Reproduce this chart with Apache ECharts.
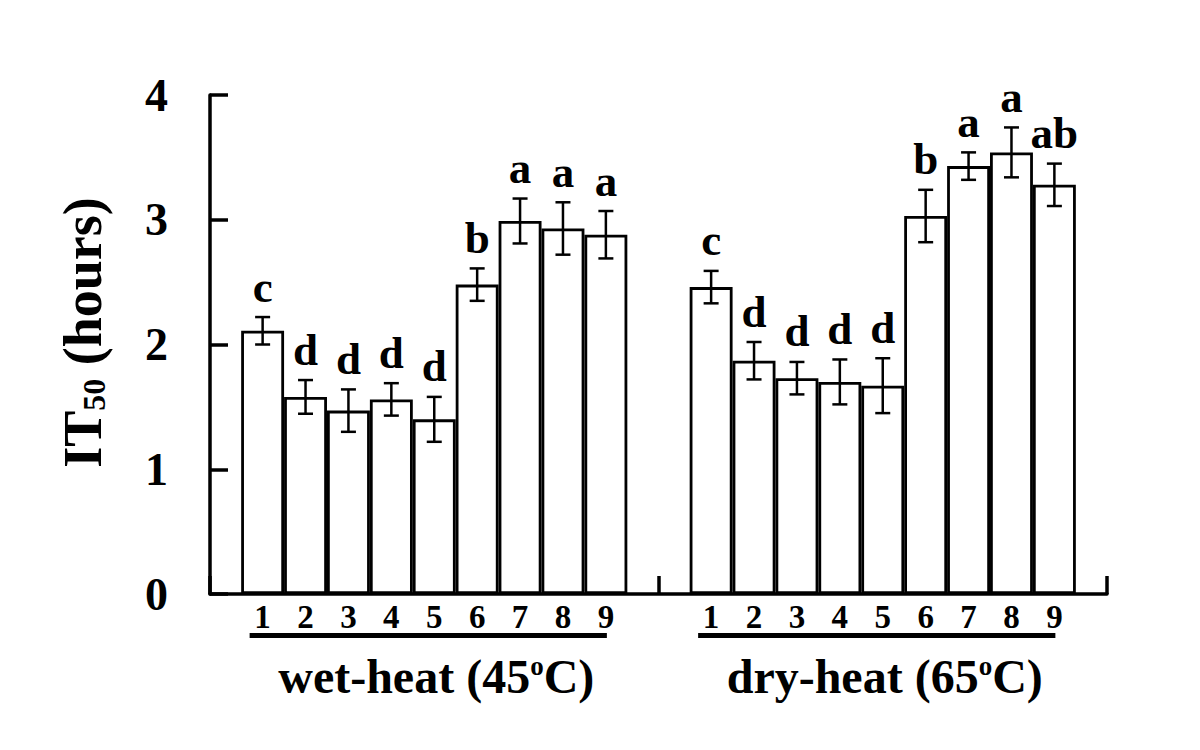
<!DOCTYPE html>
<html><head><meta charset="utf-8">
<script src="https://cdn.jsdelivr.net/npm/echarts@6/dist/echarts.min.js"></script>
<style>html,body{margin:0;padding:0;background:#fff}#c{width:1200px;height:750px}</style>
</head><body><div id="c"></div>
<script>
// ---- data ----
const groups = ['wet-heat (45ºC)', 'dry-heat (65ºC)'];
const treatments = ['1', '2', '3', '4', '5', '6', '7', '8', '9'];
const wetMean = [2.11, 1.58, 1.47, 1.56, 1.40, 2.48, 2.99, 2.93, 2.88];
const wetErr = [0.11, 0.135, 0.17, 0.13, 0.18, 0.13, 0.18, 0.21, 0.19];
const wetLetters = ['c', 'd', 'd', 'd', 'd', 'b', 'a', 'a', 'a'];
const dryMean = [2.46, 1.87, 1.73, 1.70, 1.67, 3.03, 3.43, 3.54, 3.28];
const dryErr = [0.13, 0.15, 0.13, 0.18, 0.22, 0.21, 0.11, 0.20, 0.17];
const dryLetters = ['c', 'd', 'd', 'd', 'd', 'b', 'a', 'a', 'ab'];
const yTicks = [0, 1, 2, 3, 4];

// ---- chart ----
const FONT = '"Liberation Serif", "Times New Roman", serif';
const GAP = 0.139;
const chart = echarts.init(document.getElementById('c'), null, {renderer: 'svg'});
const means = [wetMean, dryMean], errs = [wetErr, dryErr], letters = [wetLetters, dryLetters];

function barLayout(api, g, i) {
  const band = api.size([1, 0])[0];
  const groupW = band * (1 - GAP);
  const barW = groupW / treatments.length;
  const left = api.coord([g, 0])[0] - groupW / 2;
  return {left, barW, cx: left + barW * (i + 0.5)};
}

const errData = [];
for (let g = 0; g < 2; g++) for (let i = 0; i < treatments.length; i++) errData.push([g, i, means[g][i], errs[g][i]]);

const lineStyle = {stroke: '#000', lineWidth: 2.5};
const barSeries = treatments.map((t, i) => ({
  type: 'bar', name: t, silent: true,
  data: [wetMean[i], dryMean[i]],
  barGap: '0%', barCategoryGap: (GAP * 100) + '%',
  itemStyle: {color: '#fff', borderColor: '#000', borderWidth: 2.8}
}));

chart.setOption({
  animation: false,
  backgroundColor: '#fff',
  grid: {left: 210, right: 93, top: 95, bottom: 156, outerBoundsMode: 'none'},
  xAxis: {
    type: 'category', data: groups, boundaryGap: true,
    axisLine: {lineStyle: {color: '#000', width: 3.5}},
    axisTick: {show: true, inside: true, length: 18, lineStyle: {color: '#000', width: 3.5}},
    axisLabel: {show: false}, splitLine: {show: false}
  },
  yAxis: {
    type: 'value', min: yTicks[0], max: yTicks[yTicks.length - 1], interval: 1,
    axisLine: {show: true, lineStyle: {color: '#000', width: 3.5}},
    axisTick: {show: true, inside: true, length: 18, lineStyle: {color: '#000', width: 3.5}},
    splitLine: {show: false},
    axisLabel: {fontFamily: FONT, fontWeight: 'bold', fontSize: 46, color: '#000', margin: 42},
    name: '{a|IT}{b|50}{a| (hours)}',
    nameLocation: 'middle', nameRotate: 90, nameGap: 100,
    nameTextStyle: {
      padding: [0, 0, 0, 24],
      rich: {
        a: {fontFamily: FONT, fontWeight: 'bold', fontSize: 54, color: '#000'},
        b: {fontFamily: FONT, fontWeight: 'bold', fontSize: 32, color: '#000', verticalAlign: 'bottom'}
      }
    }
  },
  series: barSeries.concat([
    {
      type: 'custom', name: 'err', silent: true, clip: false,
      data: errData, encode: {x: 0, y: 2}, z: 5,
      renderItem(params, api) {
        const g = api.value(0), i = api.value(1), m = api.value(2), e = api.value(3);
        const {cx} = barLayout(api, g, i);
        const yTop = api.coord([g, m + e])[1];
        const yBot = api.coord([g, m - e])[1];
        const y0 = api.coord([g, 0])[1];
        const cap = 7.5;
        return {type: 'group', children: [
          {type: 'line', shape: {x1: cx, y1: yTop, x2: cx, y2: yBot}, style: lineStyle},
          {type: 'line', shape: {x1: cx - cap, y1: yTop, x2: cx + cap, y2: yTop}, style: lineStyle},
          {type: 'line', shape: {x1: cx - cap, y1: yBot, x2: cx + cap, y2: yBot}, style: lineStyle},
          {type: 'text', style: {text: letters[g][i], x: cx, y: yTop - 8, align: 'center', verticalAlign: 'bottom',
            font: 'bold 45px ' + FONT, fill: '#000'}},
          {type: 'text', style: {text: treatments[i], x: cx, y: y0 + 6, align: 'center', verticalAlign: 'top',
            font: 'bold 33px ' + FONT, fill: '#000'}}
        ]};
      }
    },
    {
      type: 'custom', name: 'groups', silent: true, clip: false,
      data: groups.map((gname, g) => [g, 0]), encode: {x: 0, y: 1},
      renderItem(params, api) {
        const g = api.value(0);
        const first = barLayout(api, g, 0).cx;
        const last = barLayout(api, g, treatments.length - 1).cx;
        const center = api.coord([g, 0])[0];
        const y0 = api.coord([g, 0])[1];
        const parts = groups[g].split('º');
        return {type: 'group', children: [
          {type: 'rect', shape: {x: first - 13, y: y0 + 39, width: last - first + 14, height: 5}, style: {fill: '#000'}},
          {type: 'text', style: {
            text: '{t|' + parts[0] + '}{s|o}{t|' + parts[1] + '}',
            x: center + 2, y: y0 + 82, align: 'center', verticalAlign: 'middle',
            rich: {
              t: {fontFamily: FONT, fontWeight: 'bold', fontSize: 48, fill: '#000', color: '#000'},
              s: {fontFamily: FONT, fontWeight: 'bold', fontSize: 27, fill: '#000', color: '#000', verticalAlign: 'top'}
            }
          }}
        ]};
      }
    }
  ])
});
</script>
</body></html>
